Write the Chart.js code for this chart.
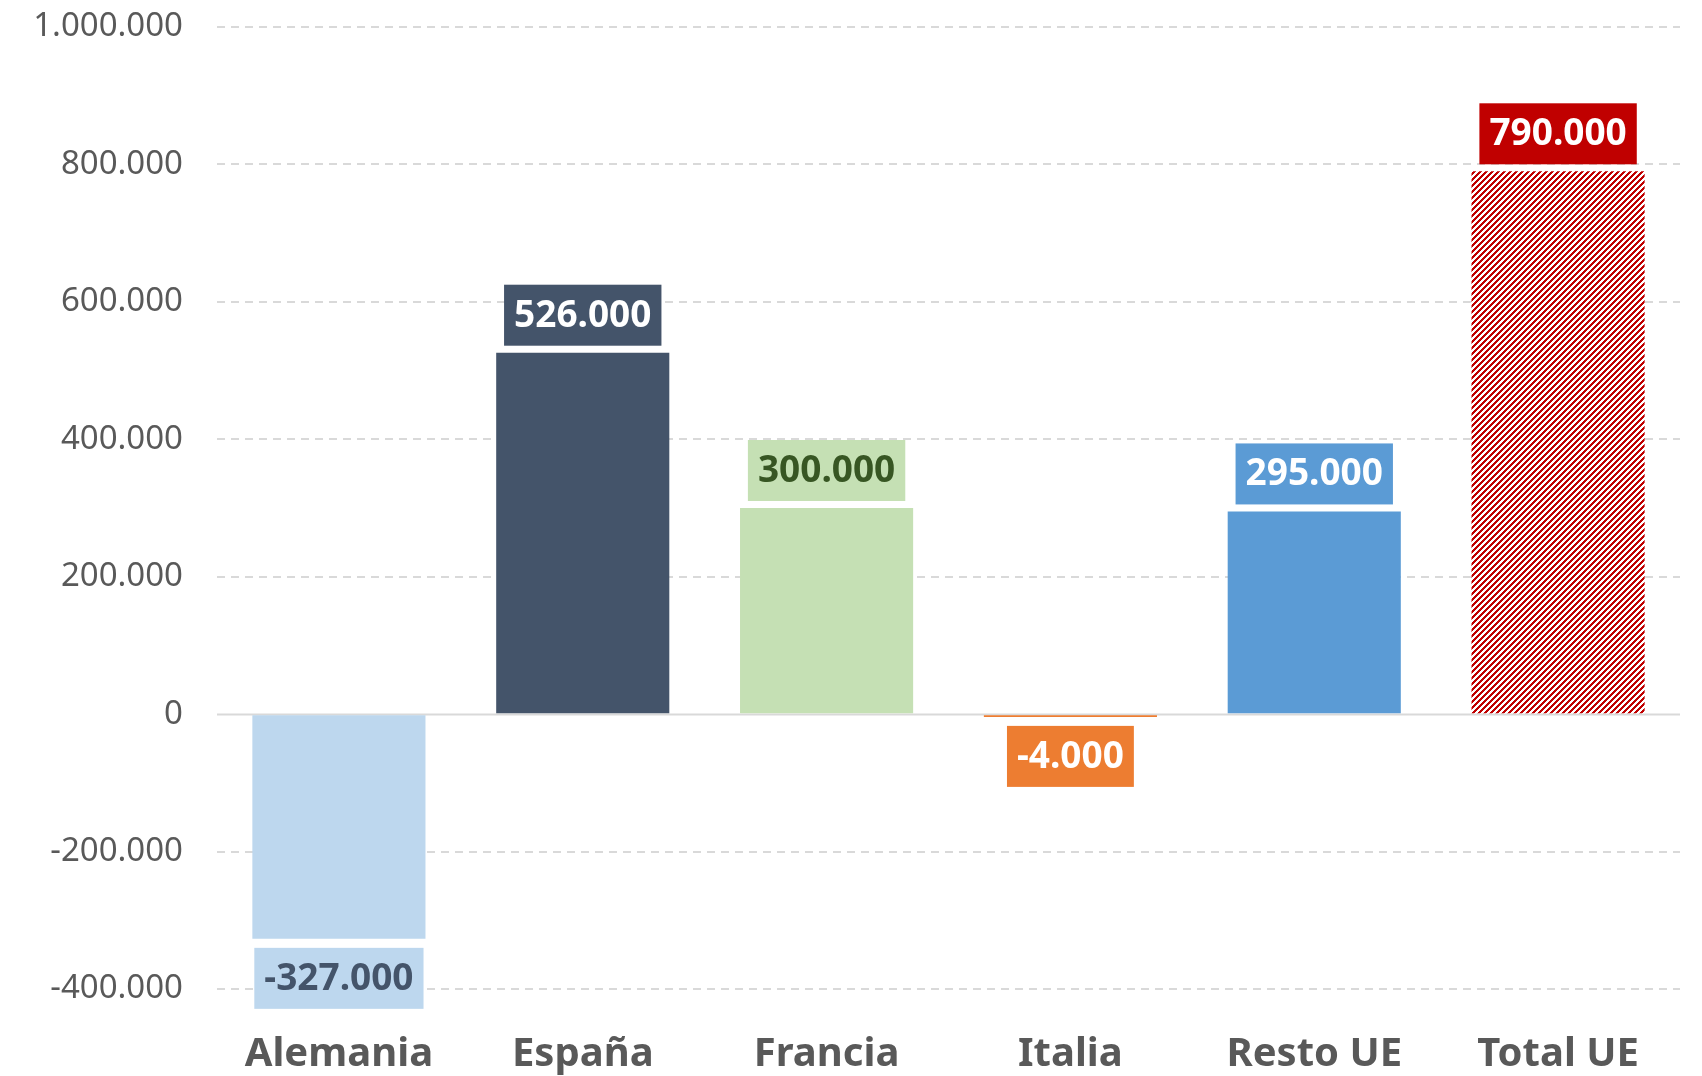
<!DOCTYPE html>
<html>
<head>
<meta charset="utf-8">
<script src="https://cdn.jsdelivr.net/npm/chart.js@4.4.1/dist/chart.umd.min.js"></script>
<style>
  html, body { margin: 0; padding: 0; background: #fff; }
  #wrap { width: 1702px; height: 1076px; }
</style>
</head>
<body>
<div id="wrap"><canvas id="waterfall"></canvas></div>
<script>
// Datos del gráfico
const categorias = ['Alemania', 'España', 'Francia', 'Italia', 'Resto UE', 'Total UE'];
const valores = [-327000, 526000, 300000, -4000, 295000, 790000];
const ticksEje = [-400000, -200000, 0, 200000, 400000, 600000, 800000, 1000000];

// Colores
const coloresBarra = ['#BDD7EE', '#44546A', '#C5E0B4', '#ED7D31', '#5B9BD5', null];
const fondoEtiqueta = ['#BDD7EE', '#44546A', '#C5E0B4', '#ED7D31', '#5B9BD5', '#C00000'];
const textoEtiqueta = ['#44546A', '#FFFFFF', '#375623', '#FFFFFF', '#FFFFFF', '#FFFFFF'];

const FUENTE = '"Noto Sans", "Open Sans", sans-serif';

/**
 * Formato con punto como separador de miles
 */
function formatoMiles(v) {
    const s = Math.abs(v).toString().replace(/\B(?=(\d{3})+(?!\d))/g, '.');
    return (v < 0 ? '-' : '') + s;
}

/**
 * Patrón rayado para la barra del total
 */
function crearRayado() {
    const c = document.createElement('canvas');
    c.width = 6; c.height = 6;
    const g = c.getContext('2d');
    g.fillStyle = '#FFFFFF';
    g.fillRect(0, 0, 6, 6);
    g.fillStyle = '#C00000';
    for (let x = 0; x < 6; x++) {
        for (let y = 0; y < 6; y++) {
            if ((x + y) % 6 < 3) g.fillRect(x, y, 1, 1);
        }
    }
    return g.createPattern(c, 'repeat');
}

// Línea del cero
const lineaCero = {
    id: 'lineaCero',
    beforeDatasetsDraw(chart) {
        const ctx = chart.ctx;
        const y = Math.round(chart.scales.y.getPixelForValue(0)) + 0.5;
        ctx.save();
        ctx.strokeStyle = '#D9D9D9';
        ctx.lineWidth = 2;
        ctx.beginPath();
        ctx.moveTo(chart.chartArea.left, y);
        ctx.lineTo(chart.chartArea.right, y);
        ctx.stroke();
        ctx.restore();
    }
};

// Etiquetas con caja de color
const etiquetas = {
    id: 'etiquetas',
    afterDatasetsDraw(chart) {
        const ctx = chart.ctx;
        const meta = chart.getDatasetMeta(0);
        ctx.save();
        ctx.font = 'bold 37px ' + FUENTE;
        ctx.textAlign = 'center';
        ctx.textBaseline = 'middle';
        meta.data.forEach(function(bar, i) {
            const v = valores[i];
            const txt = formatoMiles(v);
            const w = ctx.measureText(txt).width + 20;
            const h = 61;
            const gap = 7;
            const top = v >= 0 ? bar.y - gap - h : Math.max(bar.y, bar.base) + gap + 2;
            ctx.fillStyle = fondoEtiqueta[i];
            ctx.fillRect(bar.x - w / 2, top, w, h);
            ctx.fillStyle = textoEtiqueta[i];
            ctx.fillText(txt, bar.x, top + h / 2 + 1);
        });
        ctx.restore();
    }
};

const ctx = document.getElementById('waterfall').getContext('2d');
const colores = coloresBarra.map(function(c) { return c || crearRayado(); });

new Chart(ctx, {
    type: 'bar',
    data: {
        labels: categorias,
        datasets: [{
            data: valores,
            backgroundColor: colores,
            borderWidth: 0,
            categoryPercentage: 1,
            barPercentage: 0.71
        }]
    },
    options: {
        responsive: true,
        maintainAspectRatio: false,
        animation: false,
        layout: { padding: { top: 27, right: 22, left: 0, bottom: 0 } },
        plugins: {
            legend: { display: false },
            tooltip: { enabled: false }
        },
        scales: {
            x: {
                grid: { display: false },
                border: { display: false },
                ticks: {
                    color: '#595959',
                    font: { family: FUENTE, size: 40, weight: 'bold' },
                    padding: 34
                },
                afterFit: function(scale) { scale.height = 87; }
            },
            y: {
                min: -400000,
                max: 1000000,
                afterBuildTicks: function(scale) {
                    scale.ticks = ticksEje.map(function(v) { return { value: v }; });
                },
                grid: {
                    drawTicks: false,
                    color: function(c) { return c.tick && c.tick.value === 0 ? 'rgba(0,0,0,0)' : '#D9D9D9'; },
                    lineWidth: 2
                },
                border: { display: false, dash: [8, 6] },
                ticks: {
                    color: '#595959',
                    font: { family: FUENTE, size: 33 },
                    padding: 34,
                    callback: function(v) { return formatoMiles(v); }
                },
                afterFit: function(scale) {
                    scale.width = 217;
                    scale.paddingTop = 0;
                    scale.paddingBottom = 0;
                }
            }
        }
    },
    plugins: [lineaCero, etiquetas]
});
</script>
</body>
</html>
